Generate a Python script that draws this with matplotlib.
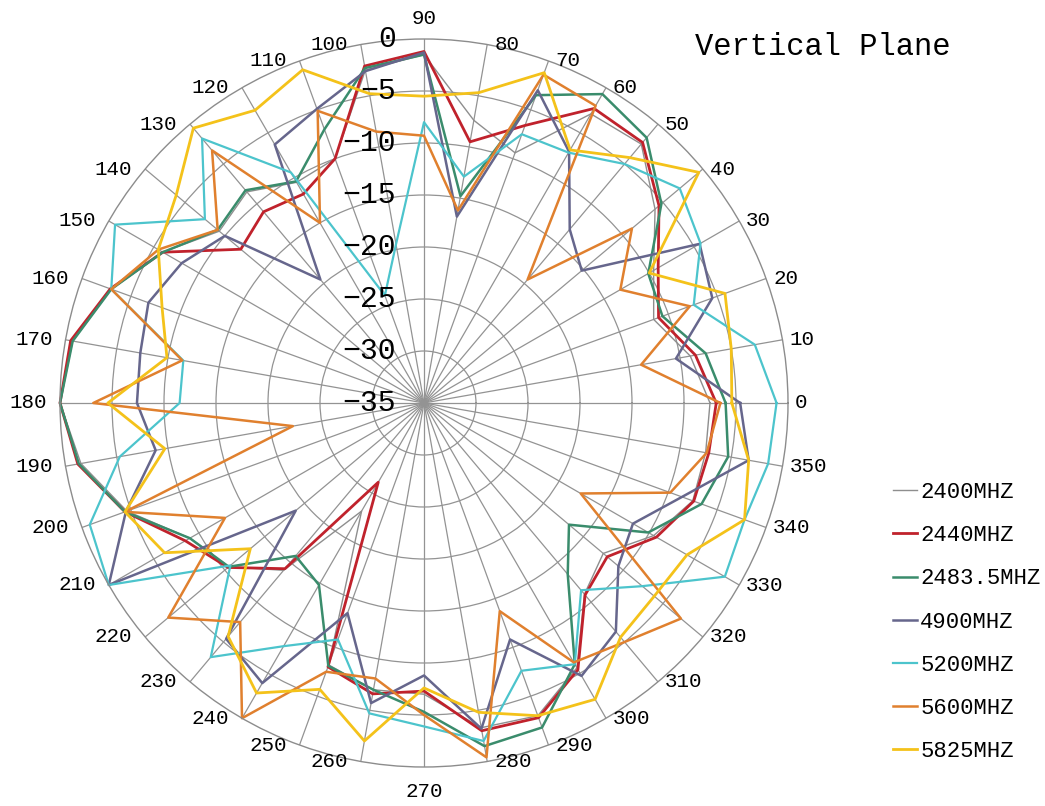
import numpy as np
import matplotlib
matplotlib.use("Agg")
import matplotlib.pyplot as plt
from matplotlib.lines import Line2D

angles_deg = list(range(0, 360, 10))
series_names = ["2400MHZ", "2440MHZ", "2483.5MHZ", "4900MHZ", "5200MHZ", "5600MHZ", "5825MHZ"]

v2400 = [-7.5, -9.0, -11.5, -9.5, -6.0, -2.5, -2.9, -9.4, -7.4, -1.5, -2.5, -10.0,
         -10.5, -8.5, -9.3, -6.0, -3.0, -0.7, 0.0, -1.5, -4.6, -9.0, -10.5, -14.0,
         -23.0, -8.2, -7.0, -7.0, -3.3, -3.0, -5.6, -11.0, -12.5, -9.5, -7.5, -7.5]
v2440 = [-6.9, -8.5, -11.0, -9.0, -5.5, -2.3, -2.3, -6.6, -9.5, -1.2, -2.1, -10.0,
         -11.8, -11.0, -12.0, -6.0, -2.9, -0.5, 0.0, -1.2, -4.4, -8.5, -10.4, -14.2,
         -26.2, -8.0, -6.6, -7.3, -3.0, -2.8, -5.4, -10.9, -12.0, -9.2, -7.4, -7.2]
v2483 = [-6.0, -7.5, -10.6, -10.1, -5.2, -1.7, -0.7, -3.5, -14.8, -1.5, -2.3, -7.0,
         -10.4, -8.3, -9.1, -6.0, -3.0, -0.7, 0.0, -1.3, -4.4, -9.0, -10.5, -15.8,
         -14.8, -8.1, -7.0, -5.3, -1.5, -1.8, -6.0, -13.5, -16.8, -10.1, -6.6, -5.3]
v4900 = [-4.6, -10.4, -5.5, -4.4, -15.2, -13.2, -7.1, -3.0, -16.8, -1.3, -2.6, -4.9,
         -6.3, -19.5, -10.0, -8.1, -6.8, -7.3, -7.4, -8.8, -4.5, 0.0, -18.9, -5.4,
         -3.9, -13.5, -5.7, -8.8, -3.2, -10.8, -4.7, -6.3, -10.6, -11.8, -8.6, -3.3]
v5200 = [-1.1, -2.7, -7.4, -4.3, -2.9, -5.0, -7.2, -7.5, -12.9, -8.0, -19.5, -24.0,
         -9.4, -1.8, -7.5, -0.7, -3.0, -11.5, -11.5, -5.3, -0.8, 0.0, -10.7, -3.1,
         -8.0, -10.8, -4.7, -3.9, -2.0, -7.6, -6.0, -11.5, -7.6, -1.6, -2.2, -1.4]
v5600 = [-6.5, -13.8, -7.8, -13.2, -8.9, -19.5, -2.0, -1.4, -16.2, -9.3, -8.5, -5.1,
         -15.0, -3.3, -9.1, -5.5, -3.0, -11.4, -3.2, -22.2, -4.4, -12.9, -2.9, -7.5,
         0.0, -7.5, -8.1, -5.0, -0.4, -13.7, -6.2, -5.0, -2.75, -17.6, -9.8, -7.4]
v5825 = [-5.4, -5.0, -4.2, -10.0, -0.5, -4.2, -6.9, -1.2, -4.7, -5.5, -4.8, -0.9,
         -2.5, -0.5, -3.9, -5.5, -8.2, -9.9, -4.6, -9.7, -4.4, -6.2, -13.2, -5.7,
         -2.8, -5.7, -2.0, -7.6, -4.8, -3.0, -2.1, -5.6, -6.1, -5.8, -2.2, -3.3]

series_values = [v2400, v2440, v2483, v4900, v5200, v5600, v5825]
colors = ["#8e8e8e", "#c0222c", "#3a8c6c", "#66668c", "#4cc4cc", "#e0802e", "#f4c21a"]
widths = [1.0, 2.0, 1.8, 1.8, 1.6, 1.8, 2.0]

r_ticks = [-35, -30, -25, -20, -15, -10, -5, 0]

W, H = 1045, 806
fig = plt.figure(figsize=(W / 100, H / 100), dpi=100)
cx, cy, R = 424, 403, 364
ax = fig.add_axes([(cx - R) / W, (H - cy - R) / H, 2 * R / W, 2 * R / H], projection="polar")
ax.set_ylim(-35, 0)
ax.set_thetagrids(angles_deg, labels=[])
ax.set_rgrids(r_ticks[1:-1], labels=[])
ax.grid(True, color="#939393", lw=0.9)
ax.spines["polar"].set_color("#8c8c8c")
ax.spines["polar"].set_linewidth(1.0)
ax.tick_params(axis="both", length=0)

theta = np.deg2rad(angles_deg + [angles_deg[0]])
for name, vals, c, lw in zip(series_names, series_values, colors, widths):
    ax.plot(theta, list(vals) + [vals[0]], color=c, lw=lw, label=name, clip_on=False)

px = 0.72
mono = "Liberation Mono"
for a in angles_deg:
    if a == 90:
        off, ha, va = (0, 11), "center", "bottom"
    elif a == 270:
        off, ha, va = (0, -15), "center", "top"
    elif 90 < a < 270:
        off, ha, va = (-13, 0), "right", "center"
    else:
        off, ha, va = (7, 0), "left", "center"
    ax.annotate(str(a), xy=(np.deg2rad(a), 0), xytext=(off[0] * px, off[1] * px),
                textcoords="offset points", ha=ha, va=va, fontsize=15,
                family=mono, annotation_clip=False)

for v in r_ticks:
    lab = "0" if v == 0 else "\u2212" + str(abs(v))
    ax.annotate(lab, xy=(np.pi / 2, v), xytext=(-28 * px, 0), textcoords="offset points",
                ha="right", va="center", fontsize=21.5, family=mono, annotation_clip=False)

fig.text(695 / W, 1 - 47 / H, "Vertical Plane", ha="left", va="center",
         fontsize=22, family=mono)

handles = [Line2D([0], [0], color=c, lw=lw) for c, lw in zip(colors, widths)]
fig.legend(handles, series_names, loc="center left", bbox_to_anchor=(893 / W, 1 - 622 / H),
           frameon=False, borderpad=0, borderaxespad=0, handlelength=1.08,
           handletextpad=0.14, labelspacing=1.0, prop={"family": mono, "size": 16})

fig.savefig("out.png", dpi=100)
